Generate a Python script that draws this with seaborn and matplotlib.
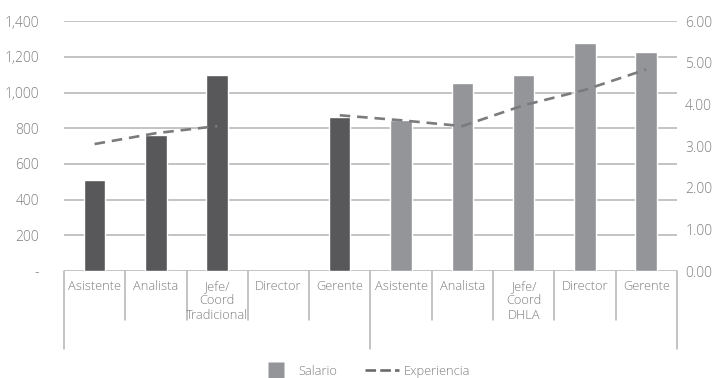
import numpy as np
import pandas as pd
import matplotlib
matplotlib.use("Agg")
import matplotlib.pyplot as plt
import seaborn as sns
from matplotlib.lines import Line2D

# ---- data ----
categories = ["Asistente", "Analista", "Jefe/\nCoord\nTradicional", "Director", "Gerente",
              "Asistente", "Analista", "Jefe/\nCoord\nDHLA", "Director", "Gerente"]
groups = ["Tradicional"] * 5 + ["DHLA"] * 5
salario = [510, 760, 1098, np.nan, 862, 845, 1053, 1098, 1277, 1226]
experiencia = [3.05, 3.31, 3.48, np.nan, 3.74, 3.62, 3.48, 3.98, 4.35, 4.84]
left_ticks = [0, 200, 400, 600, 800, 1000, 1200, 1400]
left_labels = ["-", "200", "400", "600", "800", "1,000", "1,200", "1,400"]
right_ticks = [0, 1, 2, 3, 4, 5, 6]
right_labels = ["0.00", "1.00", "2.00", "3.00", "4.00", "5.00", "6.00"]

dark = "#58585a"
light = "#939598"
txt = "#7f7f7f"
grid = "#b3b3b3"

sns.set_theme(style="white")
plt.rcParams["font.family"] = ["Open Sans", "DejaVu Sans"]
FW = "light"

pos = [f"c{i}" for i in range(len(categories))]
df = pd.DataFrame({"pos": pos, "salario": salario, "grupo": groups})

fig = plt.figure(figsize=(7.27, 3.78), dpi=100)
ax = fig.add_axes([0.088, 0.283, 0.843, 0.661])

sns.barplot(data=df, x="pos", y="salario", hue="grupo",
            palette={"Tradicional": dark, "DHLA": light},
            dodge=False, width=0.35, ax=ax, legend=False, saturation=1)

ax.set_xlim(-0.5, len(categories) - 0.5)
ax.set_ylim(0, 1400)
ax.set_yticks(left_ticks)
ax.set_yticklabels(left_labels)
ax.set_xticks([])
ax.set_xlabel("")
ax.set_ylabel("")
for y in left_ticks:
    ax.axhline(y, color=grid, lw=1.1, zorder=0)
for s in ax.spines.values():
    s.set_visible(False)
ax.tick_params(axis="y", length=0, pad=18, labelsize=10, labelcolor=txt)
for t in ax.get_yticklabels():
    t.set_fontweight(FW)

ax2 = ax.twinx()
xs = np.arange(len(categories))
ax2.plot(xs, experiencia, color="#7b7b7d", lw=1.9, dashes=(4, 2.6), solid_capstyle="butt")
ax2.set_ylim(0, 6)
ax2.set_yticks(right_ticks)
ax2.set_yticklabels(right_labels)
for s in ax2.spines.values():
    s.set_visible(False)
ax2.tick_params(axis="y", length=0, pad=6, labelsize=10, labelcolor=txt)
for t in ax2.get_yticklabels():
    t.set_fontweight(FW)
ax2.grid(False)

# multi-level x axis
trans = matplotlib.transforms.blended_transform_factory(ax.transData, ax.transAxes)
for i in range(len(categories) + 1):
    xb = i - 0.5
    yend = -0.312 if i in (0, 5, 10) else -0.196
    ax.plot([xb, xb], [0, yend], color=grid, lw=1.1, transform=trans, clip_on=False)
for i, c in enumerate(categories):
    ax.text(i, -0.035, c, transform=trans, ha="center", va="top", fontsize=9.3,
            color=txt, fontweight=FW, linespacing=1.15)

handles = [Line2D([], [], marker="s", linestyle="none", markersize=11,
                  markerfacecolor=light, markeredgecolor="none", label="Salario"),
           Line2D([0], [0], color="#6b6b6d", lw=1.9, dashes=(4, 1.6), label="Experiencia")]
leg = fig.legend(handles=handles, loc="lower center", bbox_to_anchor=(0.502, -0.03), ncol=2,
                 frameon=False, fontsize=9.3, handlelength=2.6,
                 columnspacing=2.2, handletextpad=0.4)
for t in leg.get_texts():
    t.set_color(txt)
    t.set_fontweight(FW)

fig.savefig("out.png", dpi=100)
